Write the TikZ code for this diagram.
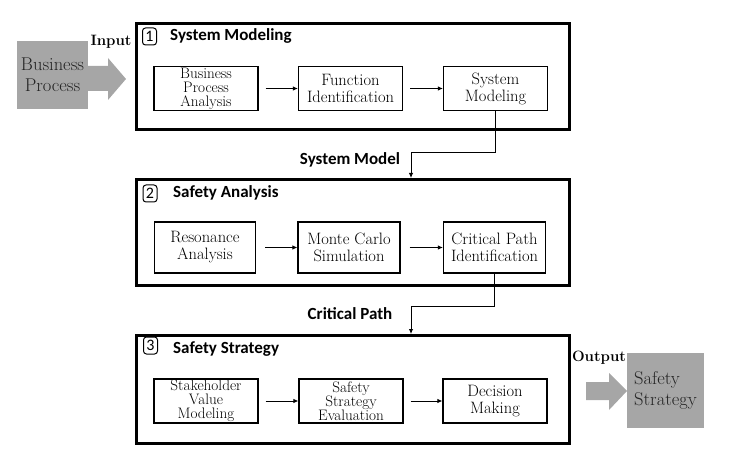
\documentclass[tikz,border=0pt]{standalone}
\usepackage{fontspec}
\newfontfamily\titlefont{Carlito}
\usetikzlibrary{arrows.meta}
\definecolor{boxgray}{RGB}{166,166,166}
\definecolor{graytext}{RGB}{35,35,35}
\begin{document}
\begin{tikzpicture}[x=1pt,y=-1pt,
  outerbox/.style={draw,line width=2.6pt,anchor=north west,minimum width=433pt,inner sep=0pt},
  stepbox/.style={draw,line width=1.1pt,minimum width=104pt,inner sep=0pt,align=center},
  three/.style={font=\fontsize{15.2}{14}\selectfont},
  two/.style={font=\fontsize{16.5}{17}\selectfont},
  numbox/.style={draw,line width=1pt,rounded corners=3pt,minimum width=14pt,minimum height=17pt,inner sep=0pt,font=\titlefont\fontsize{16}{16}\selectfont},
  title/.style={anchor=west,inner sep=0pt,font=\titlefont\bfseries\fontsize{17}{17}\selectfont},
  flowlabel/.style={inner sep=0pt,font=\titlefont\bfseries\fontsize{17}{17}\selectfont},
  iolabel/.style={inner sep=0pt,font=\bfseries\fontsize{15}{15}\selectfont},
  graybox/.style={fill=boxgray,inner sep=0pt,text=graytext,font=\fontsize{18.5}{21}\selectfont},
  conn/.style={line width=0.9pt,-{Latex[length=5pt,width=4.5pt]}},
  bigarrow/.style={fill=boxgray,draw=none}
]
\useasboundingbox (0,0) rectangle (742,457);

% outer stage boxes
\node[outerbox,minimum height=106pt] (b1) at (135,22) {};
\node[outerbox,minimum height=106pt] (b2) at (135,178) {};
\node[outerbox,minimum height=108pt] (b3) at (135,334) {};

% titles
\node[numbox] (n1) at (149.5,36.5) {1};
\node[title] (t1) at (170,36) {System Modeling};
\node[numbox] (n2) at (150,193.5) {2};
\node[title] (t2) at (173,193) {Safety Analysis};
\node[numbox] (n3) at (150.5,345.5) {3};
\node[title] (t3) at (173,349) {Safety Strategy};

% row 1
\node[stepbox,three,minimum height=43.5pt] (bpa) at (206,88.5) {Business\\Process\\Analysis};
\node[stepbox,two,minimum height=43.5pt] (fi) at (350.5,88.5) {Function\\Identification};
\node[stepbox,two,minimum height=43.5pt] (sm) at (495.5,88.5) {System\\Modeling};

% row 2
\node[stepbox,two,minimum width=101pt,minimum height=51pt] (ra) at (205,247.5) {Resonance\\Analysis};
\node[stepbox,two,minimum width=102pt,minimum height=51pt] (mc) at (349,247.5) {Monte Carlo\\Simulation};
\node[stepbox,two,minimum width=102pt,minimum height=51pt] (cp) at (494.5,247.5) {Critical Path\\Identification};

% row 3
\node[stepbox,three,minimum height=44pt] (sv) at (206,401) {Stakeholder\\Value\\Modeling};
\node[stepbox,three,minimum height=44pt] (se) at (351,401) {Safety\\Strategy\\Evaluation};
\node[stepbox,two,minimum height=44pt] (dm) at (495,401) {Decision\\Making};

% arrows within rows
\draw[conn] ([xshift=7pt]bpa.east) -- (fi.west);
\draw[conn] ([xshift=7pt]fi.east) -- (sm.west);
\draw[conn] ([xshift=9pt]ra.east) -- (mc.west);
\draw[conn] ([xshift=9pt]mc.east) -- (cp.west);
\draw[conn] ([xshift=7pt]sv.east) -- (se.west);
\draw[conn] ([xshift=7pt]se.east) -- (dm.west);

% stage connectors
\coordinate (in2) at (411,178);
\coordinate (in3) at (411,334);
\draw[conn] (sm.south) -- (sm.south |- 0,152) -| (in2);
\draw[conn] (cp.south) -- (cp.south |- 0,306) -| (in3);
\node[flowlabel] (lsm) at (350,159.5) {System Model};
\node[flowlabel] (lcp) at (350,313.5) {Critical Path};

% input / output
\node[graybox,minimum width=71pt,minimum height=68pt,align=center] (bp) at (52.5,75) {Business\\Process};
\fill[bigarrow] (88,66) -- (108,66) -- (108,58) -- (126,79) -- (108,100) -- (108,91) -- (88,91) -- cycle;
\node[iolabel] (lin) at (111,42) {Input};

\node[graybox,minimum width=77pt,minimum height=75pt,align=left] (ss) at (665.5,390.5) {Safety\\Strategy};
\fill[bigarrow] (586,382) -- (609,382) -- (609,373) -- (627,391) -- (609,410) -- (609,400) -- (586,400) -- cycle;
\node[iolabel] (lout) at (599,358) {Output};
\end{tikzpicture}
\end{document}
